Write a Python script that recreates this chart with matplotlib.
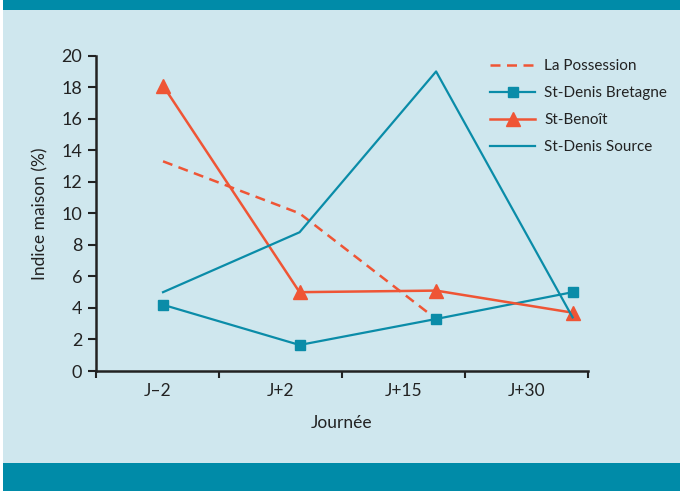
import matplotlib
matplotlib.use("Agg")
import matplotlib.pyplot as plt
from matplotlib.patches import Rectangle
import numpy as np

plt.rcParams['font.family'] = ['Lato', 'DejaVu Sans']

categories = ["J\u20132", "J+2", "J+15", "J+30"]
la_possession = [13.3, 10.0, 3.3, np.nan]
st_denis_bretagne = [4.2, 1.65, 3.3, 5.0]
st_benoit = [18.1, 5.0, 5.1, 3.7]
st_denis_source = [5.0, 8.8, 19.0, 3.4]
yticks = list(range(0, 21, 2))

ORANGE = "#ef5535"
TEAL = "#0a8ca8"
BG = "#cfe7ee"
BAND = "#008ba8"

W, H = 680, 491
fig = plt.figure(figsize=(W / 100, H / 100), dpi=100)
fig.patch.set_facecolor(BG)
fig.patches.append(Rectangle((3 / W, 1 - 10 / H), 1, 10 / H, transform=fig.transFigure,
                             facecolor=BAND, edgecolor='none', zorder=0))
fig.patches.append(Rectangle((3 / W, 0), 1, 28 / H, transform=fig.transFigure,
                             facecolor=BAND, edgecolor='none', zorder=0))
fig.patches.append(Rectangle((0, 0), 3 / W, 1, transform=fig.transFigure,
                             facecolor='white', edgecolor='none', zorder=0))

ax = fig.add_axes([96 / W, 1 - 371 / H, (588 - 96) / W, (371 - 55.7) / H])
ax.set_facecolor('none')

n = len(categories)
px = 0.545 + 1.11 * np.arange(n)

ax.plot(px, la_possession, color=ORANGE, lw=1.8, dashes=(4, 2.6), label="La Possession", zorder=3)
ax.plot(px, st_denis_bretagne, color=TEAL, lw=1.6, marker='s', markersize=7.5,
        label="St-Denis Bretagne", zorder=3)
ax.plot(px, st_benoit, color=ORANGE, lw=1.8, marker='^', markersize=10,
        label="St-Beno\u00eet", zorder=3)
ax.plot(px, st_denis_source, color=TEAL, lw=1.6, label="St-Denis Source", zorder=3)

ax.set_xlim(0, n)
ax.set_ylim(0, 20)
ax.set_xticks(np.arange(0, n + 1))
ax.set_xticklabels([])
ax.set_xticks(np.arange(n) + 0.5, minor=True)
ax.set_xticklabels(categories, minor=True)
ax.tick_params(axis='x', which='minor', length=0, pad=9, labelsize=12.5, colors='#222222')
ax.tick_params(axis='x', which='major', length=5, width=1.5, direction='out', color='#222222')
ax.set_yticks(yticks)
ax.set_yticklabels([str(v) for v in yticks])
ax.tick_params(axis='y', length=6, width=1.5, direction='out', labelsize=13, pad=4,
               colors='#222222')

for s in ['top', 'right']:
    ax.spines[s].set_visible(False)
for s in ['left', 'bottom']:
    ax.spines[s].set_linewidth(1.8)
    ax.spines[s].set_color('#222222')

ax.set_xlabel("Journ\u00e9e", fontsize=12.5, labelpad=11, color='#222222')
ax.set_ylabel("Indice maison (%)", fontsize=12.5, labelpad=9, color='#222222')

leg = ax.legend(loc='upper left', bbox_to_anchor=((490 - 96) / (588 - 96), (371 - 59) / (371 - 55.7)),
                frameon=False, fontsize=11, handlelength=2.95, labelspacing=0.86,
                handletextpad=0.6, borderpad=0, borderaxespad=0, labelcolor='#222222')

fig.savefig("out.png", dpi=100, facecolor=fig.get_facecolor())
